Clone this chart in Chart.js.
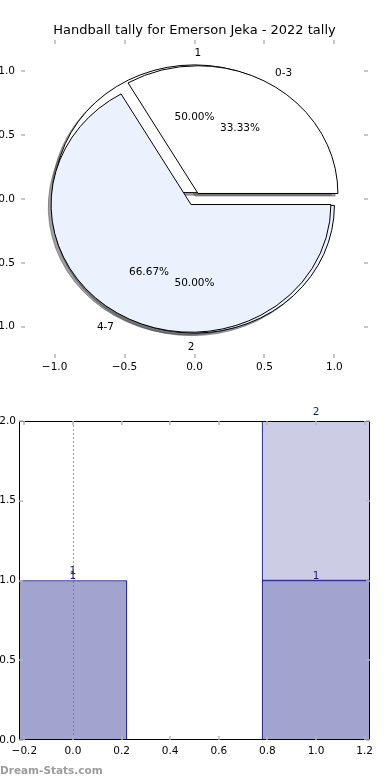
<!DOCTYPE html>
<html>
<head>
<meta charset="utf-8">
<script src="https://cdn.jsdelivr.net/npm/chart.js"></script>
<style>
  body { margin: 0; background: #fff; width: 390px; height: 780px; position: relative; overflow: hidden; }
  canvas { position: absolute; left: 0; }
  #pie { top: 0; }
  #bars { top: 390px; }
  #mark { position: absolute; left: 0; top: 764px; font: bold 10.5px "DejaVu Sans"; color: #9c9c9c; }
</style>
</head>
<body>
<canvas id="pie" width="390" height="390"></canvas>
<canvas id="bars" width="390" height="390"></canvas>
<div id="mark">Dream-Stats.com</div>
<script>
// pie data (two pies drawn over each other)
const pieTitle = 'Handball tally for Emerson Jeka - 2022 tally';
const outerLabels = ['1', '2'];
const outerValues = [1, 1];
const innerLabels = ['0-3', '4-7'];
const innerValues = [1, 2];
const pieTicks = [-1, -0.5, 0, 0.5, 1];

// bar data
const barPositions = [0, 1];
const lowerValues = [1, 1];
const upperValues = [0, 1];
const barXTicks = [-0.2, 0, 0.2, 0.4, 0.6, 0.8, 1.0, 1.2];
const barYTicks = [0, 0.5, 1, 1.5, 2];
const markerX = 0;

const pieColors = ['#ffffff', '#ebf1fd'];
const explode = 0.05;
const shadowOff = -0.02;

Chart.defaults.font.family = 'DejaVu Sans';
Chart.defaults.color = '#000';

const fmt = v => v.toFixed(1).replace('-', '\u2212');

// little grey tick marks pointing inside, on all four sides
const tickMarks = {
  id: 'tickMarks',
  afterDraw(chart) {
    const { ctx, chartArea: a, scales: { x, y } } = chart;
    ctx.save();
    ctx.strokeStyle = '#b5b5b5';
    ctx.lineWidth = 1.5;
    ctx.beginPath();
    x.ticks.forEach(t => {
      const p = Math.round(x.getPixelForValue(t.value));
      ctx.moveTo(p, a.top); ctx.lineTo(p, a.top + 4);
      ctx.moveTo(p, a.bottom); ctx.lineTo(p, a.bottom - 4);
    });
    y.ticks.forEach(t => {
      const p = Math.round(y.getPixelForValue(t.value));
      ctx.moveTo(a.left, p); ctx.lineTo(a.left + 4, p);
      ctx.moveTo(a.right, p); ctx.lineTo(a.right - 4, p);
    });
    ctx.stroke();
    ctx.restore();
  }
};

function wedgeList(values) {
  const total = values.reduce((s, v) => s + v, 0);
  let cum = 0;
  return values.map(v => {
    const t1 = 2 * Math.PI * cum / total;
    cum += v;
    const t2 = 2 * Math.PI * cum / total;
    const tm = (t1 + t2) / 2;
    return { v, total, t1, t2, tm, cx: explode * Math.cos(tm), cy: explode * Math.sin(tm) };
  });
}

function wedgePath(ctx, x, y, cx, cy, t1, t2) {
  const px = x.getPixelForValue(cx), py = y.getPixelForValue(cy);
  const rx = x.getPixelForValue(cx + 1) - px;
  const ry = py - y.getPixelForValue(cy + 1);
  ctx.beginPath();
  ctx.moveTo(px, py);
  ctx.ellipse(px, py, rx, ry, 0, -t1, -t2, true);
  ctx.closePath();
}

const piePlugin = {
  id: 'pies',
  afterDatasetsDraw(chart) {
    const { ctx, scales: { x, y } } = chart;
    const pies = [
      { labels: outerLabels, w: wedgeList(outerValues) },
      { labels: innerLabels, w: wedgeList(innerValues) }
    ];
    ctx.save();
    // shadows first
    pies.forEach(p => p.w.forEach((w, i) => {
      const c = pieColors[i % pieColors.length];
      const r = parseInt(c.slice(1, 3), 16) * 0.3, g = parseInt(c.slice(3, 5), 16) * 0.3, b = parseInt(c.slice(5, 7), 16) * 0.3;
      const sc = `rgba(${r},${g},${b},0.5)`;
      wedgePath(ctx, x, y, w.cx + shadowOff, w.cy + shadowOff, w.t1, w.t2);
      ctx.fillStyle = sc; ctx.strokeStyle = sc; ctx.lineWidth = 1;
      ctx.fill(); ctx.stroke();
    }));
    pies.forEach(p => p.w.forEach((w, i) => {
      wedgePath(ctx, x, y, w.cx, w.cy, w.t1, w.t2);
      ctx.fillStyle = pieColors[i % pieColors.length];
      ctx.strokeStyle = '#000'; ctx.lineWidth = 1;
      ctx.fill(); ctx.stroke();
    }));
    ctx.font = '10.5px "DejaVu Sans"';
    ctx.fillStyle = '#000';
    ctx.textBaseline = 'middle';
    pies.forEach(p => p.w.forEach((w, i) => {
      const lx = w.cx + 1.1 * Math.cos(w.tm), ly = w.cy + 1.1 * Math.sin(w.tm);
      ctx.textAlign = lx > 0 ? 'left' : 'right';
      ctx.fillText(p.labels[i], x.getPixelForValue(lx), y.getPixelForValue(ly) + 1);
      const qx = w.cx + 0.6 * Math.cos(w.tm), qy = w.cy + 0.6 * Math.sin(w.tm);
      ctx.textAlign = 'center';
      ctx.fillText((w.v / w.total * 100).toFixed(2) + '%', x.getPixelForValue(qx), y.getPixelForValue(qy) + 1);
    }));
    ctx.restore();
  }
};

new Chart(document.getElementById('pie').getContext('2d'), {
  type: 'scatter',
  data: { datasets: [{ data: [] }] },
  options: {
    responsive: false,
    animation: false,
    layout: { padding: { left: 0, right: 22, top: 0, bottom: 0 } },
    plugins: {
      legend: { display: false },
      tooltip: { enabled: false },
      title: {
        display: true, text: pieTitle, fullSize: false,
        font: { size: 13, weight: 'normal' }, color: '#000',
        padding: { top: 22.4, bottom: 2 }
      }
    },
    scales: {
      x: {
        type: 'linear', min: -1.24, max: 1.24,
        grid: { display: false, drawTicks: false }, border: { display: false },
        ticks: { font: { size: 10.5 }, color: '#000', padding: 3, maxRotation: 0, callback: v => fmt(v) },
        afterBuildTicks: s => { s.ticks = pieTicks.map(v => ({ value: v })); },
        afterFit: s => { s.height = 32; }
      },
      y: {
        type: 'linear', min: -1.245, max: 1.245,
        grid: { display: false, drawTicks: false }, border: { display: false },
        ticks: { font: { size: 10.5 }, color: '#000', padding: 6, callback: v => fmt(v) },
        afterBuildTicks: s => { s.ticks = pieTicks.map(v => ({ value: v })); },
        afterFit: s => { s.width = 21; }
      }
    }
  },
  plugins: [piePlugin, tickMarks]
});

// bar chart extras: frame, dotted marker line, value labels
const barExtras = {
  id: 'barExtras',
  afterDatasetsDraw(chart) {
    const { ctx, chartArea: a, scales: { x } } = chart;
    ctx.save();
    const mx = Math.round(x.getPixelForValue(markerX)) + 0.5;
    ctx.strokeStyle = 'rgba(100,100,100,0.6)';
    ctx.lineWidth = 1;
    ctx.setLineDash([2, 2]);
    ctx.beginPath(); ctx.moveTo(mx, a.top); ctx.lineTo(mx, a.bottom); ctx.stroke();
    ctx.setLineDash([]);
    ctx.strokeStyle = '#000';
    ctx.strokeRect(a.left + 0.5, a.top + 0.5, a.right - a.left - 1, a.bottom - a.top - 1);
    ctx.font = '10.5px "DejaVu Sans"';
    ctx.fillStyle = '#1a1a78';
    ctx.textAlign = 'center';
    ctx.textBaseline = 'middle';
    chart.getDatasetMeta(0).data.forEach((bar, i) => {
      ctx.fillText(String(lowerValues[i]), bar.x, bar.y - 4);
    });
    chart.getDatasetMeta(1).data.forEach((bar, i) => {
      ctx.fillText(String(lowerValues[i] + upperValues[i]), bar.x, bar.y - 9);
    });
    ctx.restore();
  }
};

new Chart(document.getElementById('bars').getContext('2d'), {
  type: 'bar',
  data: {
    datasets: [
      {
        data: barPositions.map((p, i) => ({ x: p, y: lowerValues[i] })),
        backgroundColor: '#a3a3d0', borderColor: '#000080', borderWidth: 1,
        borderSkipped: false, stack: 's', barThickness: 108
      },
      {
        data: barPositions.map((p, i) => ({ x: p, y: upperValues[i] })),
        backgroundColor: '#cccce5', borderColor: '#000080', borderWidth: 1,
        borderSkipped: false, stack: 's', barThickness: 108
      }
    ]
  },
  options: {
    responsive: false,
    animation: false,
    layout: { padding: { left: 0, right: 20, top: 31, bottom: 0 } },
    plugins: { legend: { display: false }, tooltip: { enabled: false } },
    scales: {
      x: {
        type: 'linear', min: -0.222, max: 1.222, offset: false,
        grid: { display: false, drawTicks: false, offset: false }, border: { display: false },
        ticks: { font: { size: 10.5 }, color: '#000', padding: 5, maxRotation: 0, callback: v => fmt(v) },
        afterBuildTicks: s => { s.ticks = barXTicks.map(v => ({ value: v })); },
        afterFit: s => { s.height = 40; }
      },
      y: {
        type: 'linear', min: 0, max: 2, stacked: true,
        grid: { display: false, drawTicks: false }, border: { display: false },
        ticks: { font: { size: 10.5 }, color: '#000', padding: 3, callback: v => fmt(v) },
        afterBuildTicks: s => { s.ticks = barYTicks.map(v => ({ value: v })); },
        afterFit: s => { s.width = 19; }
      }
    }
  },
  plugins: [barExtras, tickMarks]
});
</script>
</body>
</html>
